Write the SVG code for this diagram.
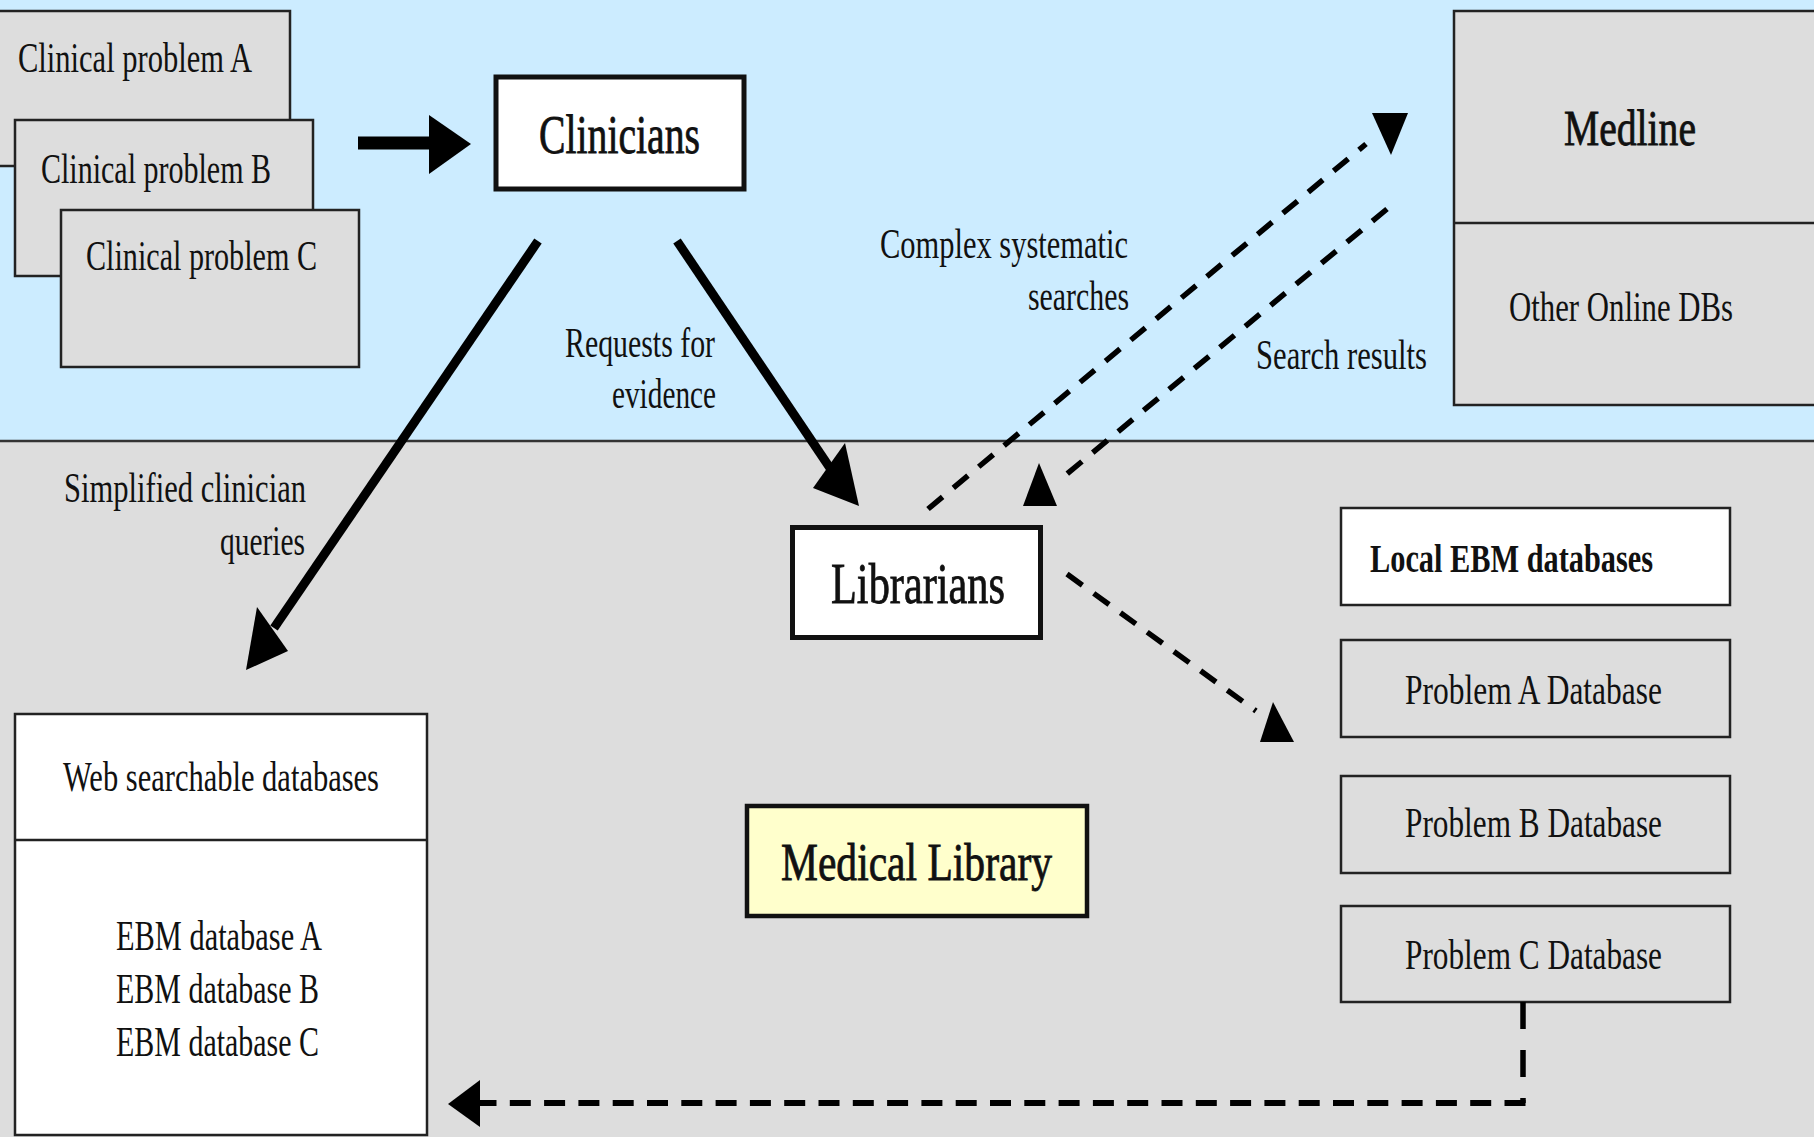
<svg xmlns="http://www.w3.org/2000/svg" width="1814" height="1137" viewBox="0 0 1814 1137">
<style>
text{font-family:"Liberation Serif","Times New Roman",serif;fill:#111;}
.s{font-size:42px;}
.b{font-size:54px;}
.big{stroke:#111;stroke-width:0.8;}
.box{fill:#dddddd;stroke:#222;stroke-width:2.5;}
.wbox{fill:#ffffff;stroke:#222;stroke-width:2.5;}
.thick{fill:#ffffff;stroke:#111;stroke-width:5;}
.solid{stroke:#000;stroke-width:9;fill:none;}
.dash{stroke:#000;stroke-width:5.5;fill:none;stroke-dasharray:19 14;}
.head{fill:#000;}
</style>
<g id="background">
<rect x="0" y="0" width="1814" height="441" fill="#ccecff"/>
<rect x="0" y="441" width="1814" height="696" fill="#dddddd"/>
<line x1="0" y1="441" x2="1814" y2="441" stroke="#333" stroke-width="2.5"/>
</g>
<g id="clinical-problem-a">
<rect class="box" x="-3" y="11" width="293" height="155"/>
<text class="s" x="18" y="72" textLength="234" lengthAdjust="spacingAndGlyphs">Clinical problem A</text>
</g>
<g id="clinical-problem-b">
<rect class="box" x="15" y="120" width="298" height="156"/>
<text class="s" x="41" y="183" textLength="230" lengthAdjust="spacingAndGlyphs">Clinical problem B</text>
</g>
<g id="clinical-problem-c">
<rect class="box" x="61" y="210" width="298" height="157"/>
<text class="s" x="86" y="270" textLength="231" lengthAdjust="spacingAndGlyphs">Clinical problem C</text>
</g>
<g id="clinicians">
<rect class="thick" x="496" y="77" width="248" height="112"/>
<text class="b big" x="539" y="153" textLength="161" lengthAdjust="spacingAndGlyphs">Clinicians</text>
</g>
<g id="medline">
<rect class="box" x="1454" y="11" width="370" height="394"/>
<line x1="1454" y1="223" x2="1814" y2="223" stroke="#222" stroke-width="2.5"/>
<text class="big" x="1564" y="145" font-size="50" textLength="132" lengthAdjust="spacingAndGlyphs">Medline</text>
<text class="s" x="1509" y="321" textLength="224" lengthAdjust="spacingAndGlyphs">Other Online DBs</text>
</g>
<g id="librarians">
<rect class="thick" x="792.5" y="527.5" width="248" height="110"/>
<text class="big" x="831" y="603" font-size="56" textLength="174" lengthAdjust="spacingAndGlyphs">Librarians</text>
</g>
<g id="medical-library">
<rect x="747" y="806" width="340" height="110" fill="#ffffcc" stroke="#111" stroke-width="4.5"/>
<text class="big" x="781" y="880" font-size="52" textLength="271" lengthAdjust="spacingAndGlyphs">Medical Library</text>
</g>
<g id="local-ebm-databases">
<rect class="wbox" x="1341" y="508" width="389" height="97"/>
<text x="1370" y="572" font-size="40" font-weight="bold" textLength="283" lengthAdjust="spacingAndGlyphs">Local EBM databases</text>
</g>
<g id="problem-a-database">
<rect class="box" x="1341" y="640" width="389" height="97"/>
<text class="s" x="1405" y="704" textLength="257" lengthAdjust="spacingAndGlyphs">Problem A Database</text>
</g>
<g id="problem-b-database">
<rect class="box" x="1341" y="776" width="389" height="97"/>
<text class="s" x="1405" y="837" textLength="257" lengthAdjust="spacingAndGlyphs">Problem B Database</text>
</g>
<g id="problem-c-database">
<rect class="box" x="1341" y="906" width="389" height="96"/>
<text class="s" x="1405" y="969" textLength="257" lengthAdjust="spacingAndGlyphs">Problem C Database</text>
</g>
<g id="web-searchable-databases">
<rect class="wbox" x="15" y="714" width="412" height="421"/>
<line x1="15" y1="840" x2="427" y2="840" stroke="#222" stroke-width="2.5"/>
<text class="s" x="63" y="791" textLength="316" lengthAdjust="spacingAndGlyphs">Web searchable databases</text>
<text class="s" x="116" y="950" textLength="206" lengthAdjust="spacingAndGlyphs">EBM database A</text>
<text class="s" x="116" y="1003" textLength="203" lengthAdjust="spacingAndGlyphs">EBM database B</text>
<text class="s" x="116" y="1056" textLength="203" lengthAdjust="spacingAndGlyphs">EBM database C</text>
</g>
<g id="connectors">
<line x1="358" y1="143" x2="432" y2="143" stroke="#000" stroke-width="13"/>
<polygon class="head" points="429,115 471,144 429,174"/>
<line class="solid" x1="538" y1="241" x2="274" y2="628"/>
<polygon class="head" points="246,670 257,607 288,651"/>
<line class="solid" x1="677" y1="241" x2="830" y2="468"/>
<polygon class="head" points="859,506 813,488 845,443"/>
<line class="dash" x1="928" y1="509" x2="1366" y2="144"/>
<polygon class="head" points="1372,113 1408,113 1391,155"/>
<line class="dash" x1="1387" y1="209" x2="1062" y2="478"/>
<polygon class="head" points="1039,463 1023,506 1057,506"/>
<line class="dash" x1="1067" y1="574" x2="1256" y2="711"/>
<polygon class="head" points="1273,702 1260,742 1294,742"/>
<line x1="1523" y1="1002" x2="1523" y2="1103" stroke="#000" stroke-width="5.5" stroke-dasharray="27 21"/>
<line x1="1525.5" y1="1103" x2="480" y2="1103" stroke="#000" stroke-width="6" stroke-dasharray="21 13.3"/>
<polygon class="head" points="448,1104 480,1080 480,1127"/>
<text class="s" x="565" y="357" textLength="150" lengthAdjust="spacingAndGlyphs">Requests for</text>
<text class="s" x="612" y="408" textLength="104" lengthAdjust="spacingAndGlyphs">evidence</text>
<text class="s" x="880" y="258" textLength="248" lengthAdjust="spacingAndGlyphs">Complex systematic</text>
<text class="s" x="1028" y="310" textLength="101" lengthAdjust="spacingAndGlyphs">searches</text>
<text class="s" x="1256" y="369" textLength="171" lengthAdjust="spacingAndGlyphs">Search results</text>
<text class="s" x="64" y="502" textLength="242" lengthAdjust="spacingAndGlyphs">Simplified clinician</text>
<text class="s" x="220" y="555" textLength="85" lengthAdjust="spacingAndGlyphs">queries</text>
</g>
</svg>
